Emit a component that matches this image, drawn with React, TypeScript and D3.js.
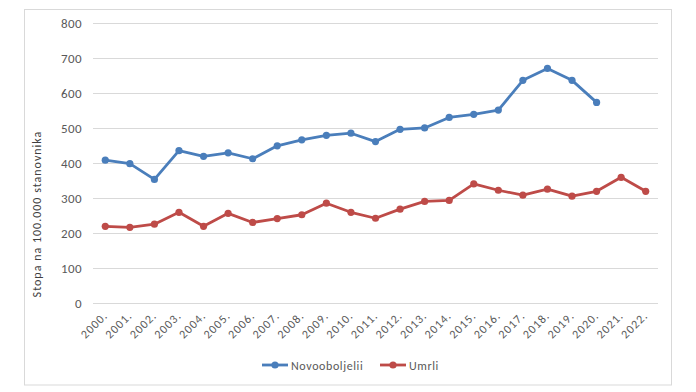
import React, { useRef, useEffect } from "react";
import * as d3 from "d3";

const years = ["2000.", "2001.", "2002.", "2003.", "2004.", "2005.", "2006.", "2007.", "2008.", "2009.", "2010.", "2011.", "2012.", "2013.", "2014.", "2015.", "2016.", "2017.", "2018.", "2019.", "2020.", "2021.", "2022."];
const novooboljeli = [409, 399, 354, 436, 420, 430, 413, 450, 467, 480, 486, 462, 497, 501, 531, 540, 552, 637, 671, 637, 574];
const umrli = [220, 217, 226, 260, 220, 257, 231, 242, 253, 286, 260, 243, 269, 291, 294, 341, 323, 309, 326, 306, 320, 360, 320];
const yTicks = [0, 100, 200, 300, 400, 500, 600, 700, 800];

const series = [
  { name: "Novooboljelii", values: novooboljeli, color: "#4A7EBB" },
  { name: "Umrli", values: umrli, color: "#BE4B48" },
];

const W = 696;
const H = 392;
const FONT = "Carlito, 'Liberation Sans', 'DejaVu Sans', sans-serif";

export default function App() {
  const ref = useRef<SVGSVGElement>(null);

  useEffect(() => {
    const svg = d3.select(ref.current);
    svg.selectAll("*").remove();

    const left = 93, right = 658, top = 23.3, bottom = 303.3;

    // outer frame
    svg.append("rect")
      .attr("x", 24.5).attr("y", 9.5)
      .attr("width", 647).attr("height", 375.5)
      .attr("fill", "#fff").attr("stroke", "#d9d9d9");

    const x = d3.scaleBand().domain(years).range([left, right]);
    const y = d3.scaleLinear().domain([0, 800]).range([bottom, top]);

    // gridlines + y labels
    svg.append("g").selectAll("line").data(yTicks).enter()
      .append("line")
      .attr("x1", left).attr("x2", right)
      .attr("y1", d => Math.round(y(d)) + 0.5).attr("y2", d => Math.round(y(d)) + 0.5)
      .attr("stroke", "#d9d9d9");

    svg.append("g").selectAll("text").data(yTicks).enter()
      .append("text")
      .attr("x", 82).attr("y", d => y(d) + 4.5)
      .attr("text-anchor", "end")
      .style("font-family", FONT).style("font-size", "13px")
      .style("letter-spacing", "0.4px")
      .style("fill", "#595959")
      .text(d => d);

    // x labels
    svg.append("g").selectAll("text").data(years).enter()
      .append("text")
      .attr("transform", d => `translate(${x(d)! + x.bandwidth() / 2 + 3},${bottom + 13}) rotate(-45)`)
      .attr("text-anchor", "end")
      .style("font-family", FONT).style("font-size", "12px")
      .style("letter-spacing", "1px")
      .style("fill", "#595959")
      .text(d => d);

    // y title
    svg.append("text")
      .attr("transform", `translate(41,214) rotate(-90)`)
      .attr("text-anchor", "middle")
      .style("font-family", FONT).style("font-size", "12px")
      .style("letter-spacing", "1px")
      .style("fill", "#404040")
      .text("Stopa na 100.000 stanovnika");

    const line = d3.line<number>()
      .x((d, i) => x(years[i])! + x.bandwidth() / 2)
      .y(d => y(d));

    series.forEach(s => {
      svg.append("path")
        .datum(s.values)
        .attr("d", line)
        .attr("fill", "none")
        .attr("stroke", s.color)
        .attr("stroke-width", 2.8)
        .attr("stroke-linejoin", "round");
      svg.append("g").selectAll("circle").data(s.values).enter()
        .append("circle")
        .attr("cx", (d, i) => x(years[i])! + x.bandwidth() / 2)
        .attr("cy", d => y(d))
        .attr("r", 3.6)
        .attr("fill", s.color);
    });

    // legend
    const legendX = [262, 380];
    series.forEach((s, i) => {
      const g = svg.append("g").attr("transform", `translate(${legendX[i]},365)`);
      g.append("line").attr("x1", 0).attr("x2", 26).attr("y1", 0).attr("y2", 0)
        .attr("stroke", s.color).attr("stroke-width", 2.8);
      g.append("circle").attr("cx", 13).attr("cy", 0).attr("r", 3.6).attr("fill", s.color);
      g.append("text").attr("x", 29).attr("y", 4.5)
        .style("font-family", FONT).style("font-size", "12px")
        .style("letter-spacing", "0.6px")
        .style("fill", "#595959")
        .text(s.name);
    });
  }, []);

  return (
    <div style={{ position: "absolute", left: 0, top: 0 }}>
      <svg ref={ref} width={W} height={H} style={{ display: "block", background: "#fff" }} />
    </div>
  );
}
